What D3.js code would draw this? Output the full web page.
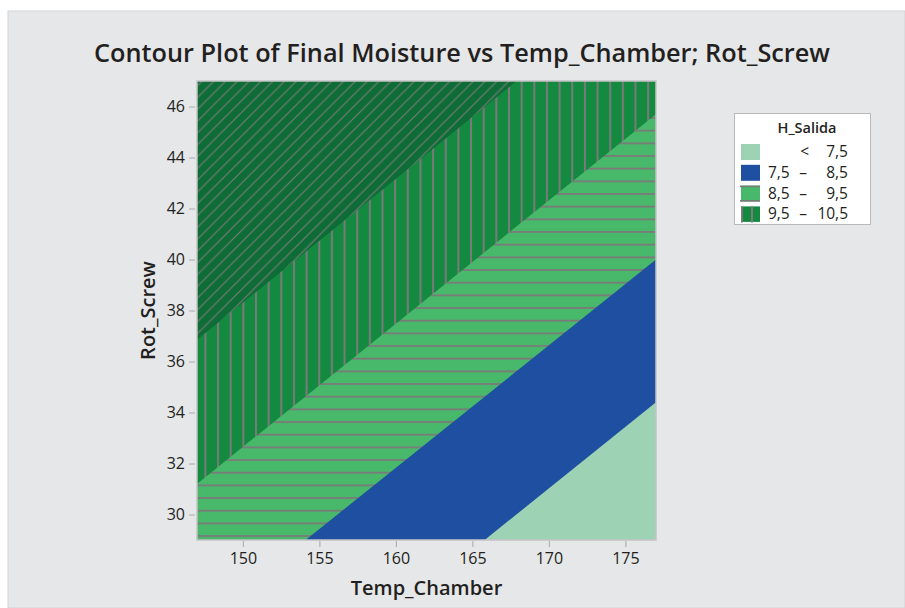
<!DOCTYPE html>
<html>
<head>
<meta charset="utf-8">
<script src="https://cdn.jsdelivr.net/npm/d3@7"></script>
<style>
  body { margin: 0; background: #fff; }
  text { font-family: "Open Sans", "Noto Sans", sans-serif; fill: #231f20; }
</style>
</head>
<body>
<script>
// Axis ticks
var tempTicks = [150, 155, 160, 165, 170, 175];
var rotTicks = [30, 32, 34, 36, 38, 40, 42, 44, 46];
var tempDomain = [147, 177];
var rotDomain = [29, 47];

// Contour boundaries: [Temp_Chamber, Rot_Screw]
var line75 = [[165.8, 29], [177, 34.4]];
var line85 = [[154.1, 29], [177, 40.0]];
var line95 = [[147, 31.2], [177, 45.7]];
var line105 = [[147, 36.85], [167.9, 47]];

// Legend entries (the top band > 10,5 is not listed in the picture)
var legendLow = ["", "7,5", "8,5", "9,5"];
var legendHigh = ["7,5", "8,5", "9,5", "10,5"];
var legendSep = ["<", "–", "–", "–"];

let W = 905, H = 608;
let plot = {left: 197, right: 656, top: 81, bottom: 540};

var svg = d3.select("body").append("svg")
  .attr("width", W)
  .attr("height", H);

// background
svg.append("rect").attr("width", W).attr("height", H).attr("fill", "#fff");
svg.append("rect")
  .attr("x", 8).attr("y", 11)
  .attr("width", W - 8).attr("height", H - 11)
  .attr("fill", "#e6e7e9")
  .attr("stroke", "#d2d3d5");

var defs = svg.append("defs");

// hatch patterns
var pDiag = defs.append("pattern")
  .attr("id", "diag").attr("patternUnits", "userSpaceOnUse")
  .attr("width", 11.8).attr("height", 11.8);
pDiag.append("rect").attr("width", 11.8).attr("height", 11.8).attr("fill", "#0e6d37");
pDiag.append("path").attr("d", "M-3,3 L3,-3 M0,11.8 L11.8,0 M8.8,14.8 L14.8,8.8")
  .attr("stroke", "#7a7a7a").attr("stroke-width", 1.1);

var pVert = defs.append("pattern")
  .attr("id", "vert").attr("patternUnits", "userSpaceOnUse")
  .attr("x", 2).attr("width", 12.65).attr("height", 10);
pVert.append("rect").attr("width", 12.65).attr("height", 10).attr("fill", "#148a41");
pVert.append("rect").attr("x", 0).attr("width", 2).attr("height", 10).attr("fill", "#7a7a7a");

var pHorz = defs.append("pattern")
  .attr("id", "horz").attr("patternUnits", "userSpaceOnUse")
  .attr("y", 3).attr("width", 10).attr("height", 12.67);
pHorz.append("rect").attr("width", 10).attr("height", 12.67).attr("fill", "#48b86a");
pHorz.append("rect").attr("y", 0).attr("width", 10).attr("height", 1.8).attr("fill", "#7a7a7a");

var fills = ["#9dd3b4", "#1f4fa1", "url(#horz)", "url(#vert)", "url(#diag)"];

// scales
let xScale = d3.scaleLinear().domain(tempDomain).range([plot.left, plot.right]);
let yScale = d3.scaleLinear().domain(rotDomain).range([plot.bottom, plot.top]);

// region below a boundary line, closed along the right/bottom corners
function regionBelow(pts) {
  var a = pts[0], b = pts[pts.length - 1];
  var slope = (b[1] - a[1]) / (b[0] - a[0]);
  var corners = [[tempDomain[1], rotDomain[1]], [tempDomain[1], rotDomain[0]],
                 [tempDomain[0], rotDomain[0]], [tempDomain[0], rotDomain[1]]];
  var below = corners.filter(function(c) {
    return c[1] < a[1] + slope * (c[0] - a[0]) - 1e-9;
  });
  return pts.concat(below);
}

var areaLine = d3.line()
  .x(function(d) { return xScale(d[0]); })
  .y(function(d) { return yScale(d[1]); });

var g = svg.append("g");

// whole plot = top band
g.append("rect")
  .attr("x", xScale(tempDomain[0])).attr("y", yScale(rotDomain[1]))
  .attr("width", xScale(tempDomain[1]) - xScale(tempDomain[0]))
  .attr("height", yScale(rotDomain[0]) - yScale(rotDomain[1]))
  .attr("fill", fills[4]);

var bounds = [line105, line95, line85, line75];
g.selectAll("path.band")
  .data(bounds)
  .enter()
  .append("path")
  .attr("class", "band")
  .attr("d", function(d) { return areaLine(regionBelow(d)) + "Z"; })
  .attr("fill", function(d, i) { return fills[3 - i]; });

// frame
svg.append("rect")
  .attr("x", plot.left).attr("y", plot.top)
  .attr("width", plot.right - plot.left).attr("height", plot.bottom - plot.top)
  .attr("fill", "none").attr("stroke", "#c4c4c6").attr("stroke-width", 1.5);

// axes
let xAxis = d3.axisBottom(xScale).tickValues(tempTicks).tickSize(6).tickPadding(6);
let yAxis = d3.axisLeft(yScale).tickValues(rotTicks).tickSize(6).tickPadding(4);

var gx = svg.append("g")
  .attr("transform", "translate(0," + (plot.bottom + 1) + ")")
  .call(xAxis);
var gy = svg.append("g")
  .attr("transform", "translate(" + (plot.left - 2) + ",0)")
  .call(yAxis);

[gx, gy].forEach(function(ax) {
  ax.select(".domain").remove();
  ax.selectAll(".tick line").attr("stroke", "#a7a9ac");
  ax.selectAll(".tick text")
    .attr("font-size", "16px")
    .attr("fill", "#231f20")
    .style("font-family", "'Open Sans', sans-serif");
});

// titles
svg.append("text")
  .attr("x", 462).attr("y", 62)
  .attr("text-anchor", "middle")
  .attr("font-size", "25.3px").attr("font-weight", 600)
  .text("Contour Plot of Final Moisture vs Temp_Chamber; Rot_Screw");

svg.append("text")
  .attr("x", (plot.left + plot.right) / 2).attr("y", 595)
  .attr("text-anchor", "middle")
  .attr("font-size", "20px").attr("font-weight", 600)
  .text("Temp_Chamber");

svg.append("text")
  .attr("transform", "translate(155," + ((plot.top + plot.bottom) / 2) + ") rotate(-90)")
  .attr("text-anchor", "middle")
  .attr("font-size", "20px").attr("font-weight", 600)
  .text("Rot_Screw");

// legend
var lg = svg.append("g");
lg.append("rect")
  .attr("x", 734.5).attr("y", 113.5)
  .attr("width", 136).attr("height", 111)
  .attr("fill", "#fff").attr("stroke", "#b9babc");
lg.append("text")
  .attr("x", 807).attr("y", 133)
  .attr("text-anchor", "middle")
  .attr("font-size", "14.5px").attr("font-weight", 600)
  .text("H_Salida");

var rows = lg.selectAll("g.row")
  .data(legendHigh)
  .enter()
  .append("g")
  .attr("class", "row")
  .attr("transform", function(d, i) { return "translate(0," + (144 + i * 20.8) + ")"; });

rows.append("rect")
  .attr("x", 741).attr("y", 0)
  .attr("width", 19).attr("height", function(d, i) { return i == 3 ? 15.5 : 16; })
  .attr("fill", function(d, i) { return fills[i].indexOf("url") == 0 ? (i == 2 ? "#48b86a" : "#148a41") : fills[i]; });

// hatch hints on legend swatches
rows.filter(function(d, i) { return i == 2; })
  .selectAll("line").data([0.8, 15.2]).enter().append("line")
  .attr("x1", 740).attr("x2", 760)
  .attr("y1", function(d) { return d; }).attr("y2", function(d) { return d; })
  .attr("stroke", "#7a7a7a").attr("stroke-width", 1.6);
rows.filter(function(d, i) { return i == 3; })
  .selectAll("line").data([742, 752]).enter().append("line")
  .attr("y1", 0).attr("y2", 16)
  .attr("x1", function(d) { return d; }).attr("x2", function(d) { return d; })
  .attr("stroke", "#7a7a7a").attr("stroke-width", 2);

rows.append("text")
  .attr("x", 768).attr("y", 13)
  .attr("font-size", "15.5px")
  .text(function(d, i) { return legendLow[i]; });
rows.append("text")
  .attr("x", function(d, i) { return i == 0 ? 809 : 803; })
  .attr("y", 13)
  .attr("text-anchor", function(d, i) { return i == 0 ? "end" : "middle"; })
  .attr("font-size", "15.5px")
  .text(function(d, i) { return legendSep[i]; });
rows.append("text")
  .attr("x", 848).attr("y", 13)
  .attr("text-anchor", "end")
  .attr("font-size", "15.5px")
  .text(function(d) { return d; });
</script>
</body>
</html>
